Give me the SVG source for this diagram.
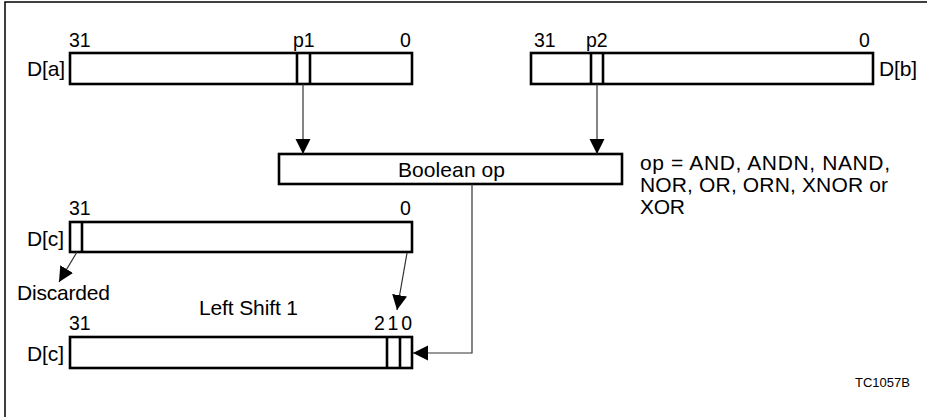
<svg xmlns="http://www.w3.org/2000/svg" width="927" height="417" viewBox="0 0 927 417">
<style>
text{font-family:"Liberation Sans",Arial,sans-serif;font-size:21px;fill:#000}
.num{font-size:19.5px}
.reg{fill:#fff;stroke:#000;stroke-width:2.6}
.bit{stroke:#000;stroke-width:2.6}
.conn{fill:none;stroke:#333;stroke-width:1.2}
.small{font-size:13px}
</style>
<defs>
<marker id="ah" markerUnits="userSpaceOnUse" markerWidth="16" markerHeight="16" refX="15" refY="7.5" orient="auto">
<path d="M0,0 L15,7.5 L0,15 z" fill="#000"/>
</marker>
</defs>
<rect x="0" y="0" width="927" height="417" fill="#fff"/>
<path d="M5,417 V2 H927" fill="none" stroke="#000" stroke-width="1.5"/>

<g id="Da">
<rect class="reg" x="70" y="53" width="342" height="31"/>
<line class="bit" x1="297" y1="53" x2="297" y2="84"/>
<line class="bit" x1="310" y1="53" x2="310" y2="84"/>
<text class="num" x="69" y="47">31</text>
<text class="num" x="293" y="47">p1</text>
<text class="num" x="400" y="47">0</text>
<text x="27" y="76" textLength="38">D[a]</text>
</g>

<g id="Db">
<rect class="reg" x="531" y="53" width="342" height="31"/>
<line class="bit" x1="591" y1="53" x2="591" y2="84"/>
<line class="bit" x1="603" y1="53" x2="603" y2="84"/>
<text class="num" x="534" y="47">31</text>
<text class="num" x="586" y="47">p2</text>
<text class="num" x="859" y="47">0</text>
<text x="879" y="76" textLength="38">D[b]</text>
</g>

<g id="boolop">
<rect class="reg" x="279" y="154" width="343" height="30"/>
<text x="398" y="177" textLength="107">Boolean op</text>
</g>

<g id="opnote">
<text x="640" y="170" textLength="250">op = AND, ANDN, NAND,</text>
<text x="640" y="192" textLength="248">NOR, OR, ORN, XNOR or</text>
<text x="640" y="214" textLength="45">XOR</text>
</g>

<g id="Dc1">
<rect class="reg" x="70" y="222" width="342" height="30"/>
<line class="bit" x1="82" y1="222" x2="82" y2="252"/>
<text class="num" x="69" y="215">31</text>
<text class="num" x="400" y="215">0</text>
<text x="27" y="246" textLength="37">D[c]</text>
</g>

<g id="discarded">
<text x="17" y="300" textLength="93">Discarded</text>
</g>

<g id="shiftlabel">
<text x="199" y="315" textLength="99">Left Shift 1</text>
</g>

<g id="Dc2">
<rect class="reg" x="70" y="337" width="342" height="31"/>
<line class="bit" x1="387" y1="337" x2="387" y2="368"/>
<line class="bit" x1="400" y1="337" x2="400" y2="368"/>
<text class="num" x="69" y="330">31</text>
<text class="num" x="374" y="330" textLength="38">210</text>
<text x="27" y="361" textLength="37">D[c]</text>
</g>

<g id="tag">
<text class="small" x="855" y="387">TC1057B</text>
</g>

<g id="connectors">
<line class="conn" x1="303" y1="84" x2="303" y2="154" marker-end="url(#ah)"/>
<line class="conn" x1="597" y1="84" x2="597" y2="154" marker-end="url(#ah)"/>
<line class="conn" x1="77" y1="252" x2="59" y2="282" marker-end="url(#ah)"/>
<line class="conn" x1="407" y1="253" x2="397" y2="310" marker-end="url(#ah)"/>
<path class="conn" d="M472,184 V353 H413" marker-end="url(#ah)"/>
</g>
</svg>
